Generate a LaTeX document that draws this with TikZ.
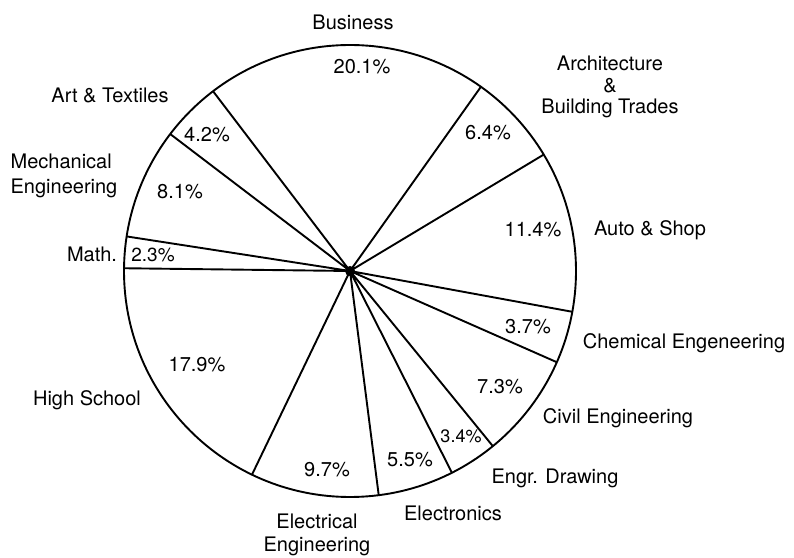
\documentclass[tikz,border=0pt]{standalone}
\usepackage{fontspec}
\setmainfont{TeX Gyre Heros}
\usetikzlibrary{calc}

\begin{document}
\begin{tikzpicture}[x=1pt,y=1pt,line width=1.9pt,
    lab/.style={font=\fontsize{20}{23}\selectfont,inner sep=0pt,align=center},
    pct/.style={font=\fontsize{20}{23}\selectfont,inner sep=0pt}]
  \useasboundingbox (0,0) rectangle (794,557);
  % centre and rim of the pie
  \coordinate (O) at (350,286);
  \draw (O) circle (226);
  \coordinate (S1) at ($(O)+(54.6:226)$);
  \coordinate (S2) at ($(O)+(31.0:226)$);
  \coordinate (S3) at ($(O)+(-10.4:226)$);
  \coordinate (S4) at ($(O)+(-23.8:226)$);
  \coordinate (S5) at ($(O)+(-50.8:226)$);
  \coordinate (S6) at ($(O)+(-63.2:226)$);
  \coordinate (S7) at ($(O)+(-82.7:226)$);
  \coordinate (S8) at ($(O)+(-115.7:226)$);
  \coordinate (S9) at ($(O)+(179.3:226)$);
  \coordinate (S10) at ($(O)+(171.2:226)$);
  \coordinate (S11) at ($(O)+(142.7:226)$);
  \coordinate (S12) at ($(O)+(127.3:226)$);
  \draw (O)--(S1) (O)--(S2) (O)--(S3) (O)--(S4);
  \draw (O)--(S5) (O)--(S6) (O)--(S7) (O)--(S8);
  \draw (O)--(S9) (O)--(S10) (O)--(S11) (O)--(S12);
  \fill (O) circle (5);
  % field names
  \node[lab] (Lbus) at (353,535) {Business};
  \node[lab,font=\fontsize{20}{21.5}\selectfont] (Larch) at (610,470) {Architecture\\\&\\Building Trades};
  \node[lab] (Lauto) at (650,327) {Auto \& Shop};
  \node[lab] (Lchem) at (684,214) {Chemical Engeneering};
  \node[lab] (Lcivil) at (618,139) {Civil Engineering};
  \node[lab] (Ldraw) at (555,79) {Engr. Drawing};
  \node[lab] (Lelec) at (453,44) {Electronics};
  \node[lab] (Lelect) at (317,22) {Electrical\\Engineering};
  \node[lab] (Lhigh) at (87,157) {High School};
  \node[lab] (Lmath) at (92,303) {Math.};
  \node[lab,align=left,font=\fontsize{20}{25}\selectfont] (Lmech) at (64,381) {Mechanical\\Engineering};
  \node[lab] (Lart) at (110,462) {Art \& Textiles};
  % shares
  \node[pct] (Pbus) at (362,490) {20.1\%};
  \node[pct] (Parch) at (488,424) {6.4\%};
  \node[pct] (Pauto) at (533,327) {11.4\%};
  \node[pct] (Pchem) at (528,230) {3.7\%};
  \node[pct] (Pcivil) at (500,170) {7.3\%};
  \node[pct,font=\fontsize{18}{18}\selectfont] (Pdraw) at (461,121) {3.4\%};
  \node[pct] (Pelec) at (410,97) {5.5\%};
  \node[pct] (Pelect) at (327,87) {9.7\%};
  \node[pct] (Phigh) at (197,192) {17.9\%};
  \node[pct,font=\fontsize{19}{19}\selectfont] (Pmath) at (153,302) {2.3\%};
  \node[pct] (Pmech) at (180,365) {8.1\%};
  \node[pct] (Part) at (207,422) {4.2\%};
\end{tikzpicture}
\end{document}
